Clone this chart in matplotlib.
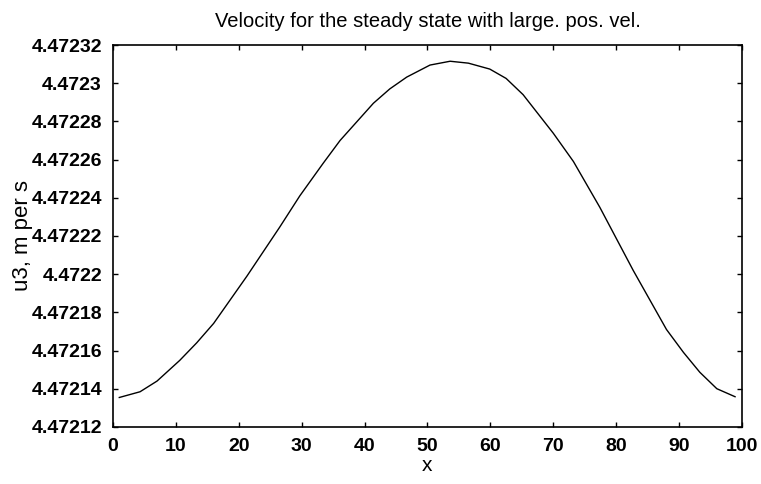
import matplotlib
matplotlib.use("Agg")
import matplotlib.pyplot as plt
from matplotlib.ticker import FuncFormatter

plt.rcParams['font.family'] = ['Liberation Sans', 'DejaVu Sans']

# Data
x_vals = [1.0, 4.3, 7.0, 10.6, 13.3, 16.0, 21.3, 26.5, 29.7, 33.4, 36.1,
          41.4, 44.0, 46.7, 50.4, 53.6, 56.5, 59.9, 62.5, 65.2, 70.0, 73.2,
          77.4, 82.7, 88.0, 90.7, 93.3, 96.0, 98.9]
u3_vals = [4.4721354, 4.4721384, 4.4721440, 4.4721548, 4.4721640, 4.4721742,
           4.4721990, 4.4722246, 4.4722410, 4.4722580, 4.4722700, 4.4722895,
           4.4722970, 4.4723032, 4.4723095, 4.4723115, 4.4723105, 4.4723074,
           4.4723025, 4.4722940, 4.4722738, 4.4722590, 4.4722350, 4.4722020,
           4.4721710, 4.4721590, 4.4721486, 4.4721400, 4.4721358]

x_ticks = [0, 10, 20, 30, 40, 50, 60, 70, 80, 90, 100]
y_ticks = [4.47212, 4.47214, 4.47216, 4.47218, 4.47220, 4.47222,
           4.47224, 4.47226, 4.47228, 4.47230, 4.47232]

title = "Velocity for the steady state with large. pos. vel."
xlabel = "x"
ylabel = "u3, m per s"

fig = plt.figure(figsize=(7.61, 4.84), dpi=100)
ax = fig.add_axes([0.1485, 0.118, 0.8265, 0.789])

ax.plot(x_vals, u3_vals, color='black', linewidth=1.0)

ax.set_xlim(0, 100)
ax.set_ylim(4.47212, 4.47232)
ax.set_xticks(x_ticks)
ax.set_yticks(y_ticks)
ax.yaxis.set_major_formatter(FuncFormatter(lambda v, _: f"{v:g}"))
ax.xaxis.set_major_formatter(FuncFormatter(lambda v, _: f"{v:g}"))

ax.tick_params(axis='both', which='major', direction='in', length=3.5, width=1,
               top=True, right=True, labelsize=14)
ax.tick_params(axis='y', pad=8)
ax.tick_params(axis='x', pad=8)
for lbl in ax.get_xticklabels() + ax.get_yticklabels():
    lbl.set_fontweight('bold')

for sp in ax.spines.values():
    sp.set_linewidth(1.2)
    sp.set_color('black')

ax.set_title(title, fontsize=14.5, pad=13)
ax.set_xlabel(xlabel, fontsize=15, labelpad=1)
ax.set_ylabel(ylabel, fontsize=16, labelpad=-1.5)

fig.savefig("out.png", dpi=100)
